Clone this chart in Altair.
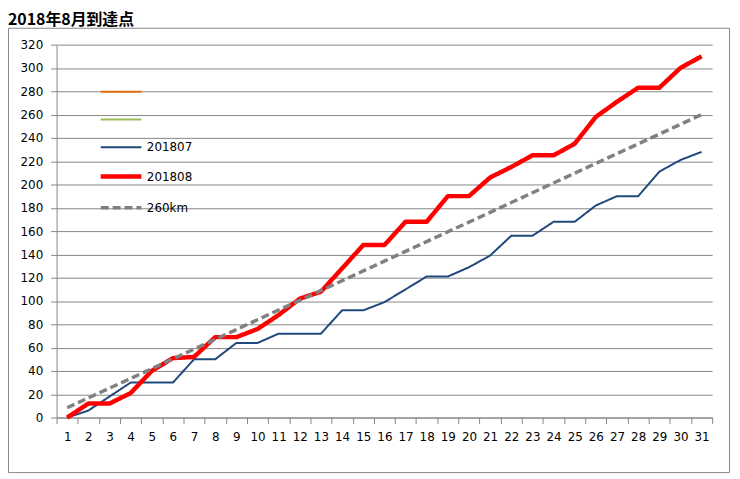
import altair as alt
import pandas as pd

days = list(range(1, 32))
s201807 = [0, 6, 18, 30, 30, 30, 50, 50, 64, 64, 72, 72, 72, 92, 92, 99, 110, 121, 121, 129,
           139, 156, 156, 168, 168, 182, 190, 190, 211, 221, 228]
s201808 = [0, 12, 12, 21, 40, 51, 52, 69, 69, 76, 88, 102, 108, 128, 148, 148, 168, 168, 190, 190,
           206, 215, 225, 225, 235, 258, 271, 283, 283, 300, 310]
s260 = [8.4, 16.8, 25.2, 33.5, 41.9, 50.3, 58.7, 67.1, 75.5, 83.9, 92.3, 100.6, 109.0, 117.4, 125.8,
        134.2, 142.6, 151.0, 159.4, 167.7, 176.1, 184.5, 192.9, 201.3, 209.7, 218.1, 226.5, 234.8,
        243.2, 251.6, 260.0]

series_names = ["o", "g", "201807", "201808", "260km"]
series_colors = ["#E46C0A", "#9BBB59", "#1F497D", "#FF0000", "#808080"]
series_widths = [2, 2, 2, 4.5, 3.5]
series_dash = [[1, 0], [1, 0], [1, 0], [1, 0], [8, 4]]
y_ticks = list(range(0, 321, 20))
x_ticks = [d - 0.5 for d in days] + [31.5]

rows = []
for name, vals in [("201807", s201807), ("201808", s201808), ("260km", s260)]:
    for d, v in zip(days, vals):
        rows.append({"day": d, "value": v, "series": name, "order": series_names.index(name)})
df = pd.DataFrame(rows)

W, H = 661, 376
BW = W / 31.0

lines = alt.Chart(df).mark_line(strokeCap="butt", strokeJoin="round").encode(
    x=alt.X("day:Q", scale=alt.Scale(domain=[0.5, 31.5], nice=False, zero=False),
            axis=alt.Axis(values=x_ticks, title=None, grid=False, domainColor="#868686",
                          tickColor="#868686", tickSize=6, labelPadding=8,
                          labelOffset=BW / 2, labelFlush=False, labelOverlap=False,
                          labelExpr="datum.value < 31 ? format(datum.value + 0.5, 'd') : ''")),
    y=alt.Y("value:Q", scale=alt.Scale(domain=[0, 320], nice=False),
            axis=alt.Axis(values=y_ticks, title=None, grid=True, gridColor="#868686",
                          domainColor="#868686", tickColor="#868686", tickSize=6,
                          labelPadding=8)),
    color=alt.Color("series:N", scale=alt.Scale(domain=series_names, range=series_colors),
                    legend=alt.Legend(title=None, orient="none", legendX=42, legendY=26,
                                      symbolType="stroke", symbolSize=1681, rowPadding=-1,
                                      labelFont="DejaVu Sans", labelFontSize=12,
                                      labelColor="#000000", labelOffset=3, padding=0,
                                      labelExpr="length(datum.label) < 2 ? '' : datum.label")),
    strokeWidth=alt.StrokeWidth("series:N", scale=alt.Scale(type="ordinal", domain=series_names,
                                                            range=series_widths)),
    strokeDash=alt.StrokeDash("series:N", scale=alt.Scale(domain=series_names, range=series_dash)),
    order=alt.Order("order:Q"),
    detail="series:N",
)

frame = alt.Chart(pd.DataFrame({"a": [0]})).mark_rect(
    fillOpacity=0, stroke="#888888", strokeWidth=1
).encode(
    x=alt.value(-48.5), x2=alt.value(W + 17.5), y=alt.value(-16.5), y2=alt.value(H + 55.5)
)

chart = alt.layer(frame, lines).properties(
    width=W, height=H,
    title=alt.TitleParams("2018年8月到達点", anchor="start", frame="group", dx=-49, offset=0,
                          font="Noto Sans CJK JP", fontSize=16, fontWeight="bold", color="#000000"),
    autosize=alt.AutoSizeParams(type="none"),
    padding={"left": 49, "top": 35, "right": 20, "bottom": 58},
).configure_view(stroke=None).configure_axis(
    labelFont="DejaVu Sans", labelFontSize=12, labelColor="#000000", domainWidth=1
)

chart.save("out.html", embed_options={"renderer": "svg", "actions": False})
